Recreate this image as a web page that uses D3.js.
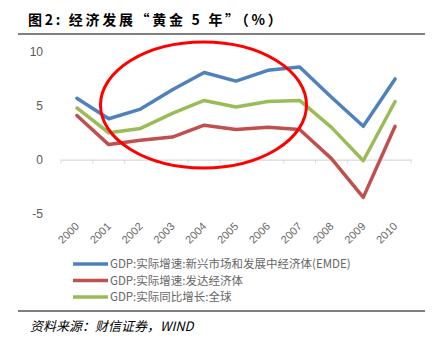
<!DOCTYPE html>
<html>
<head>
<meta charset="utf-8">
<script src="https://cdn.jsdelivr.net/npm/d3@7"></script>
<style>
  body { margin: 0; background: #fff; }
  svg { display: block; }
</style>
</head>
<body>
<div id="chart"></div>
<script>
var years = ["2000", "2001", "2002", "2003", "2004", "2005", "2006", "2007", "2008", "2009", "2010"];
var emde = [5.7, 3.8, 4.7, 6.5, 8.1, 7.3, 8.3, 8.6, 5.8, 3.1, 7.5];
var advanced = [4.1, 1.4, 1.8, 2.1, 3.2, 2.8, 3.0, 2.8, 0.1, -3.5, 3.1];
var world = [4.8, 2.5, 2.9, 4.3, 5.5, 4.9, 5.4, 5.5, 3.0, -0.1, 5.4];
var yTicks = [-5, 0, 5, 10];
var seriesNames = ["GDP:实际增速:新兴市场和发展中经济体(EMDE)", "GDP:实际增速:发达经济体", "GDP:实际同比增长:全球"];
var seriesColors = ["#4F81BD", "#C0504D", "#9BBB59"];

var width = 445, height = 344;
var svg = d3.select("#chart").append("svg")
    .attr("width", width)
    .attr("height", height);

// title + rule
svg.append("text")
    .attr("x", 28)
    .attr("y", 25)
    .attr("font-family", "'Noto Sans CJK SC', sans-serif")
    .attr("font-weight", "bold")
    .attr("font-size", 14)
    .attr("letter-spacing", 2.7)
    .attr("fill", "#000")
    .text("图2: 经济发展“黄金 5 年”（%）");

svg.append("line")
    .attr("x1", 18).attr("x2", 425)
    .attr("y1", 34).attr("y2", 34)
    .attr("stroke", "#000").attr("stroke-width", 1.2);

var x = d3.scaleBand().domain(years).range([61, 411]);
var y = d3.scaleLinear().domain([-5, 10]).range([213.5, 52]);

// y labels (no axis line)
svg.selectAll(".ylab")
    .data(yTicks)
    .enter().append("text")
    .attr("class", "ylab")
    .attr("x", 43)
    .attr("y", function (d) { return y(d); })
    .attr("dy", "0.35em")
    .attr("text-anchor", "end")
    .attr("font-family", "'Liberation Sans', Arial, sans-serif")
    .attr("font-size", 12)
    .attr("fill", "#595959")
    .text(function (d) { return d; });

// zero line with category ticks
var xAxis = d3.axisBottom(x).tickSize(4).tickFormat("").tickSizeOuter(0);
var gx = svg.append("g").attr("transform", "translate(0," + y(0) + ")").call(xAxis);
gx.select(".domain").attr("stroke", "#d9d9d9").attr("stroke-width", 1.2);
gx.selectAll(".tick line")
    .attr("stroke", "#d9d9d9")
    .attr("transform", function () { return "translate(" + (-x.bandwidth() / 2) + ",0)"; });
gx.append("line")
    .attr("x1", x.range()[1]).attr("x2", x.range()[1])
    .attr("y1", 0).attr("y2", 4)
    .attr("stroke", "#d9d9d9");

// rotated year labels
svg.selectAll(".xlab")
    .data(years)
    .enter().append("text")
    .attr("class", "xlab")
    .attr("transform", function (d) {
        return "translate(" + (x(d) + x.bandwidth() / 2 + 3) + ",227) rotate(-45)";
    })
    .attr("text-anchor", "end")
    .attr("font-family", "'Liberation Sans', Arial, sans-serif")
    .attr("font-size", 11)
    .attr("fill", "#666")
    .text(function (d) { return d; });

// series lines
var line = d3.line()
    .x(function (d, i) { return x(years[i]) + x.bandwidth() / 2; })
    .y(function (d) { return y(d); });

var series = [advanced, world, emde];
var colorsDrawn = [seriesColors[1], seriesColors[2], seriesColors[0]];
svg.selectAll(".series")
    .data(series)
    .enter().append("path")
    .attr("class", "series")
    .attr("fill", "none")
    .attr("stroke", function (d, i) { return colorsDrawn[i]; })
    .attr("stroke-width", 3.5)
    .attr("stroke-linejoin", "round")
    .attr("stroke-linecap", "round")
    .attr("d", line);

// highlight ellipse over 2001-2007
svg.append("ellipse")
    .attr("cx", 203.5)
    .attr("cy", 105)
    .attr("rx", 103)
    .attr("ry", 63)
    .attr("fill", "none")
    .attr("stroke", "#FF0000")
    .attr("stroke-width", 3);

// legend
var legend = svg.selectAll(".legend")
    .data(seriesNames)
    .enter().append("g")
    .attr("class", "legend")
    .attr("transform", function (d, i) { return "translate(0," + (264 + i * 16.5) + ")"; });
legend.append("line")
    .attr("x1", 73).attr("x2", 108)
    .attr("stroke", function (d, i) { return seriesColors[i]; })
    .attr("stroke-width", 3.5);
legend.append("text")
    .attr("x", 110)
    .attr("dy", "0.35em")
    .attr("font-family", "'Noto Sans CJK SC', sans-serif")
    .attr("font-size", 11.5)
    .attr("fill", "#666")
    .text(function (d) { return d; });

// bottom rule + source
svg.append("line")
    .attr("x1", 18).attr("x2", 425)
    .attr("y1", 311).attr("y2", 311)
    .attr("stroke", "#000").attr("stroke-width", 1.2);

svg.append("text")
    .attr("x", 30)
    .attr("y", 331)
    .attr("font-family", "'Noto Sans CJK SC', sans-serif")
    .attr("font-style", "italic")
    .attr("font-size", 13)
    .attr("fill", "#000")
    .text("资料来源：财信证券，WIND");
</script>
</body>
</html>
